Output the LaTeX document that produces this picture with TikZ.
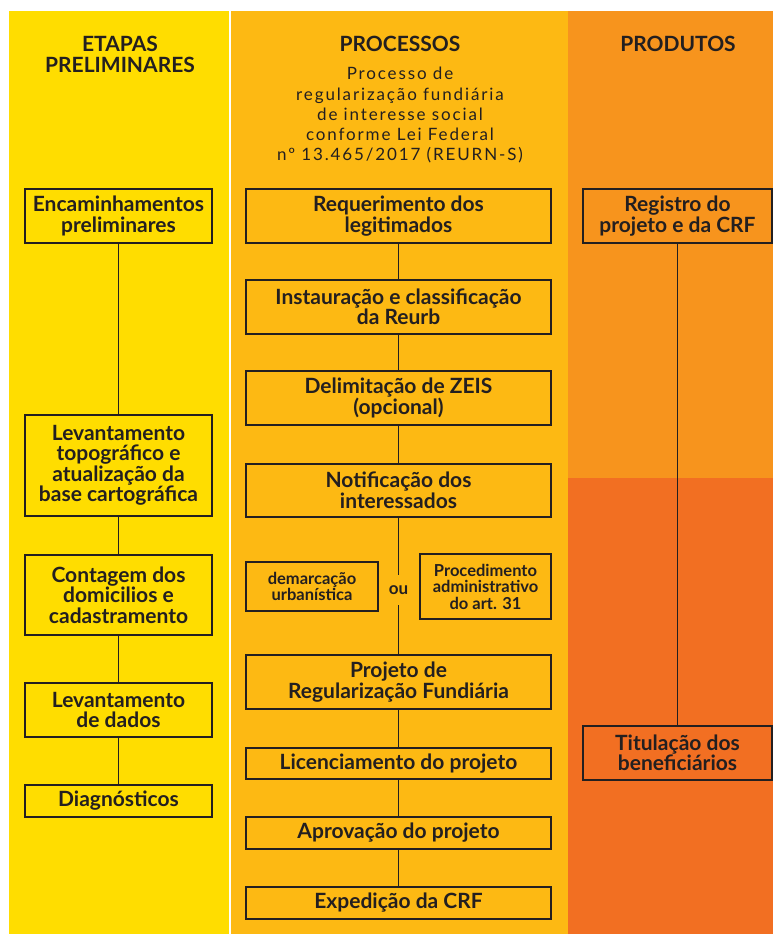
\documentclass[tikz,border=0pt]{standalone}
\usepackage{fontspec}
\setmainfont{Lato}
\newfontfamily\subfont[LetterSpace=11]{Lato}
\definecolor{cyel}{HTML}{FFDD00}
\definecolor{cmid}{HTML}{FDB913}
\definecolor{corA}{HTML}{F7941D}
\definecolor{corB}{HTML}{F26F22}
\definecolor{ink}{HTML}{231F20}
\begin{document}
\begin{tikzpicture}[x=1pt,y=-1pt,
  box/.style={draw=ink, line width=1.9pt, inner sep=0pt, align=center, text=ink,
    font=\fontsize{21}{20.5}\selectfont\bfseries},
  smallbox/.style={box, font=\fontsize{16.5}{16.5}\selectfont\bfseries},
  lcol/.style={minimum width=187pt},
  mcol/.style={minimum width=305pt},
  rcol/.style={minimum width=189pt},
  head/.style={anchor=north, inner sep=0pt, align=center, text=ink,
    font=\fontsize{21}{20.5}\selectfont\bfseries},
  subt/.style={anchor=north, inner sep=0pt, align=center, text=ink,
    font=\fontsize{17}{20.3}\subfont},
  link/.style={draw=ink, line width=1.9pt}]
% backgrounds
\fill[white] (0,0) rectangle (773,934);
\useasboundingbox (0,0) rectangle (773,934);
\fill[cyel] (9,11) rectangle (228.5,934);
\fill[cmid] (231,11) rectangle (568,934);
\fill[corA] (568,11) rectangle (773,478);
\fill[corB] (568,478) rectangle (773,934);
% headers
\node[head] (h1) at (120,36) {ETAPAS\\PRELIMINARES};
\node[head] (h2) at (400,36) {PROCESSOS};
\node[head] (h3) at (678,36) {PRODUTOS};
\node[subt] (sub) at (400,67) {Processo de\\regularização fundiária\\de interesse social\\conforme Lei Federal\\nº 13.465/2017 (REURN-S)};
% left column
\node[box, lcol, minimum height=54pt] (enc) at (118.5,216) {Encaminhamentos\\preliminares};
\node[box, lcol, minimum height=101pt] (lev) at (118.5,465.5) {Levantamento\\topográfico e\\atualização da\\base cartográfica};
\node[box, lcol, minimum height=80pt] (cont) at (118.5,595) {Contagem dos\\domicilios e\\cadastramento};
\node[box, lcol, minimum height=54pt] (dados) at (118.5,710) {Levantamento\\de dados};
\node[box, lcol, minimum height=32pt] (diag) at (118.5,801) {Diagnósticos};
% middle column
\node[box, mcol, minimum height=54pt] (req) at (398.5,216) {Requerimento dos\\legitimados};
\node[box, mcol, minimum height=54pt] (inst) at (398.5,307) {Instauração e classificação\\da Reurb};
\node[box, mcol, minimum height=54pt] (delim) at (398.5,398) {Delimitação de ZEIS\\(opcional)};
\node[box, mcol, minimum height=53pt] (notif) at (398.5,490.5) {Notificação dos\\interessados};
\node[smallbox, minimum width=132pt, minimum height=49pt] (dem) at (312,586.5) {demarcação\\urbanística};
\node[smallbox, minimum width=131pt, minimum height=65pt] (proc) at (485.5,586.5) {Procedimento\\administrativo\\do art. 31};
\node[text=ink, font=\fontsize{17}{17}\selectfont\bfseries, inner sep=0pt, minimum height=30pt] (ou) at (398.5,590) {ou};
\node[box, mcol, minimum height=54pt] (proj) at (398.5,682) {Projeto de\\Regularização Fundiária};
\node[box, mcol, minimum height=31pt] (lic) at (398.5,763.5) {Licenciamento do projeto};
\node[box, mcol, minimum height=32pt] (apr) at (398.5,833) {Aprovação do projeto};
\node[box, mcol, minimum height=32pt] (exp) at (398.5,903) {Expedição da CRF};
% right column
\node[box, rcol, minimum height=54pt] (reg) at (677.5,216) {Registro do\\projeto e da CRF};
\node[box, rcol, minimum height=54pt] (tit) at (677.5,753) {Titulação dos\\beneficiários};
% connectors
\draw[link] (enc) -- (lev);
\draw[link] (lev) -- (cont);
\draw[link] (cont) -- (dados);
\draw[link] (dados) -- (diag);
\draw[link] (req) -- (inst);
\draw[link] (inst) -- (delim);
\draw[link] (delim) -- (notif);
\draw[link] (notif.south) -- (ou.north);
\draw[link] (ou.south) -- (proj.north);
\draw[link] (proj) -- (lic);
\draw[link] (lic) -- (apr);
\draw[link] (apr) -- (exp);
\draw[link] (reg) -- (tit);
\end{tikzpicture}
\end{document}
